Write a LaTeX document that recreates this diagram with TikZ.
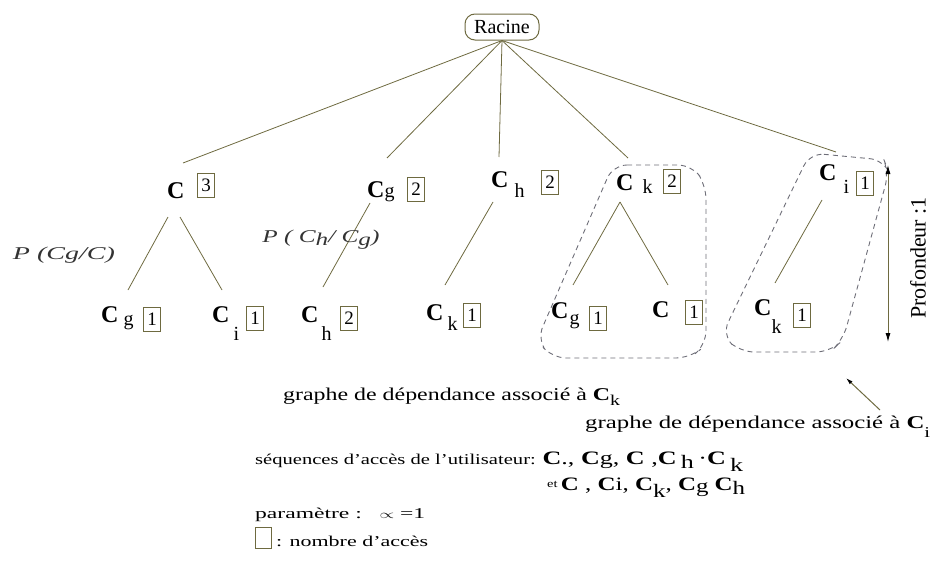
\documentclass[tikz,border=0pt]{standalone}
\usepackage{fontspec}
\setmainfont{Liberation Serif}
\usetikzlibrary{arrows.meta,calc}
\definecolor{olivel}{HTML}{6E6A40}
\definecolor{dgrey}{HTML}{6E6E78}
\newcommand\fs[1]{\fontsize{#1}{#1}\selectfont}
% C with subscript: #1 sub, #2 gap, #3 drop
\newcommand\CC[3]{{\fs{24}\bfseries C}\hspace{#2pt}\raisebox{-#3pt}{\fs{20}#1}}
\newcommand\bC{\textbf{C}}
\newcommand\wbox[2]{\resizebox{#1}{\height}{#2}}
\tikzset{
  cnode/.style={inner sep=0pt, anchor=base west},
  cnt/.style={draw=olivel, line width=0.9pt, minimum width=17pt, minimum height=24pt, inner sep=0pt, font=\fs{19}},
  link/.style={draw=olivel, line width=0.8pt},
  grp/.style={draw=dgrey, line width=0.9pt, dash pattern=on 5pt off 4pt, rounded corners=14pt},
  txt/.style={inner sep=0pt, anchor=base west},
  plab/.style={inner sep=0pt, text=black!80, font=\fs{18}\itshape},
}
\begin{document}
\begin{tikzpicture}[x=1pt,y=-1pt]
\useasboundingbox (0,0) rectangle (938,562);

% root
\node[draw=olivel, rounded corners=10pt, minimum width=74pt, minimum height=26pt, inner sep=0pt, line width=1pt, font=\fs{20}] (root) at (502,27) {Racine};

% level 1
\node[cnode] (c1) at (167,198) {\CC{}{0}{0}};
\node[cnt] (b1) at (206,185) {3};
\node[cnode] (c2) at (367,197) {\CC{g}{0}{0}};
\node[cnt] (b2) at (416,189) {2};
\node[cnode] (c3) at (491,187) {\CC{h}{6}{10}};
\node[cnt] (b3) at (550,182) {2};
\node[cnode] (c4) at (616,190) {\CC{k}{9}{3}};
\node[cnt] (b4) at (672,181) {2};
\node[cnode] (c5) at (819,180) {\CC{i}{7}{13}};
\node[cnt] (b5) at (865,183) {1};

% level 2
\node[cnode] (c6) at (101,322) {\CC{g}{5}{3}};
\node[cnt] (b6) at (152,319) {1};
\node[cnode] (c7) at (212,322) {\CC{i}{4}{18}};
\node[cnt] (b7) at (255,318) {1};
\node[cnode] (c8) at (301,322) {\CC{h}{3}{18}};
\node[cnt] (b8) at (349,318) {2};
\node[cnode] (c9) at (426,320) {\CC{k}{4}{10}};
\node[cnt] (b9) at (472,315) {1};
\node[cnode] (c10) at (551,318) {\CC{g}{1}{6}};
\node[cnt] (b10) at (598,318) {1};
\node[cnode] (c11) at (652,317) {\CC{}{0}{0}};
\node[cnt] (b11) at (694,312) {1};
\node[cnode] (c12) at (754,315) {\CC{k}{0}{18}};
\node[cnt] (b12) at (802,315) {1};

% connector ends
\coordinate (t1) at (183,163);
\coordinate (t2) at (387,158);
\coordinate (t3) at (499,157);
\coordinate (t4) at (628,158);
\coordinate (t5) at (836,152);
\coordinate (u1a) at (168,217);
\coordinate (u1b) at (180,217);
\coordinate (u2) at (370,203);
\coordinate (u3) at (493,202);
\coordinate (u4) at (620,202);
\coordinate (u5) at (822,200);
\coordinate (v6) at (128,290);
\coordinate (v7) at (222,290);
\coordinate (v8) at (323,287);
\coordinate (v9) at (445,285);
\coordinate (v10) at (573,285);
\coordinate (v11) at (668,285);
\coordinate (v12) at (775,283);

\foreach \t in {t1,t2,t3,t4,t5} \draw[link] (root.south) -- (\t);
\draw[link] (u1a) -- (v6);
\draw[link] (u1b) -- (v7);
\draw[link] (u2) -- (v8);
\draw[link] (u3) -- (v9);
\draw[link] (u4) -- (v10);
\draw[link] (u4) -- (v11);
\draw[link] (u5) -- (v12);

% probability labels
\node[plab] (p1) at (64,255) {\wbox{102pt}{P (Cg/C)}};
\node[plab] (p2) at (321,240) {\wbox{117pt}{P ( C\raisebox{-3pt}{h}/ C\raisebox{-3pt}{g})}};

% dependency groups
\draw[grp] (613,165) -- (692,165) -- (706,185) -- (706,345) -- (690,358) -- (552,358) -- (537,340) -- cycle;
\draw[grp] (810,153) -- (884,160) -- (889,172) -- (843,340) -- (830,352) -- (740,352) -- (722,335) -- cycle;

% depth arrow
\coordinate (dtop) at (888,165);
\coordinate (dbot) at (888,342);
\draw[draw=olivel, line width=1pt, {Latex[black,length=9pt,width=5pt]}-{Latex[black,length=9pt,width=5pt]}] (dtop) -- (dbot);
\node[rotate=90, inner sep=0pt, font=\fs{22}] (prof) at (918,258) {Profondeur :1};

% pointer arrow
\coordinate (pa) at (880,410);
\coordinate (pz) at (846,378);
\draw[draw=olivel, line width=1pt, -{Latex[black,length=7pt,width=4pt]}] (pa) -- (pz);

% bottom texts
\node[txt] (g1) at (283,400) {\wbox{337pt}{\fs{18}graphe de dépendance associé à \bC\raisebox{-5pt}{\fs{15}k}}};
\node[txt] (g2) at (585,428) {\wbox{345pt}{\fs{18}graphe de dépendance associé à \bC\raisebox{-9pt}{\fs{15}i}}};
\node[txt] (seq) at (255,464) {\wbox{488pt}{\fs{15}séquences d'accès de l'utilisateur: {\fs{19}\bC., \bC g, \bC\ ,\bC\,\raisebox{-4pt}{h}\,·\bC\,\raisebox{-7pt}{k}}}};
\node[txt] (et) at (547,490) {\wbox{198pt}{{\fs{11}\raisebox{3pt}{et}} {\fs{19}\bC\ , \bC i, \bC\raisebox{-7pt}{k}, \bC\raisebox{-2pt}{g} \bC\raisebox{-4pt}{h}}}};
\node[txt] (par) at (255,518) {\wbox{170pt}{\fs{15}paramètre :\ \ \ {\fs{13}$\propto$}\ =1}};
\node[draw=olivel, line width=0.9pt, minimum width=16pt, minimum height=21pt, inner sep=0pt] (leg) at (263,538) {};
\node[txt] (nb) at (276,546) {\wbox{152pt}{\fs{15}: nombre d'accès}};
\end{tikzpicture}
\end{document}
